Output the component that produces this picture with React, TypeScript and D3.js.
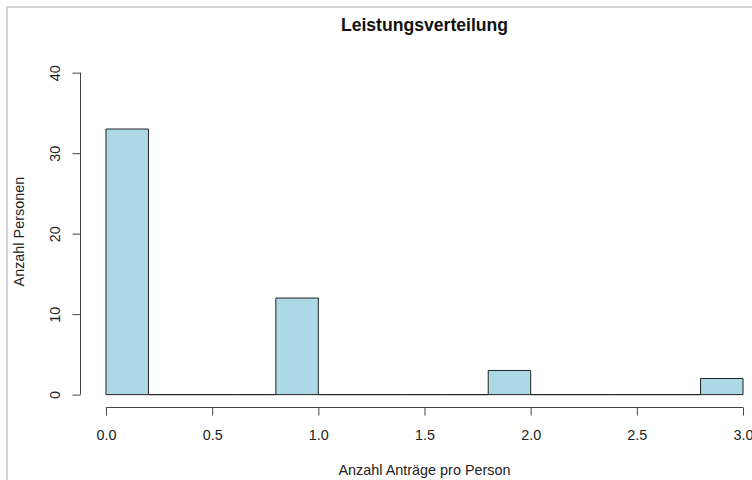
import React, { useEffect, useRef } from 'react';
import * as d3 from 'd3';

// Histogram bins (width 0.2) and counts
const binEdges = [0, 0.2, 0.4, 0.6, 0.8, 1.0, 1.2, 1.4, 1.6, 1.8, 2.0, 2.2, 2.4, 2.6, 2.8, 3.0];
const counts = [33, 0, 0, 0, 12, 0, 0, 0, 0, 3, 0, 0, 0, 0, 2];
const xTicks = [0, 0.5, 1.0, 1.5, 2.0, 2.5, 3.0];
const yTicks = [0, 10, 20, 30, 40];

const title = 'Leistungsverteilung';
const xTitle = 'Anzahl Anträge pro Person';
const yTitle = 'Anzahl Personen';

const width = 752;
const height = 480;

const App: React.FC = () => {
  const svgRef = useRef<SVGSVGElement>(null);

  useEffect(() => {
    document.body.style.margin = '0';
    const svg = d3.select(svgRef.current);
    svg.selectAll('*').remove();

    const font = 'Liberation Sans, Arial, sans-serif';
    const fs = '14.4px';

    // plot region (R style: 4% padding on both axes)
    const plot = { left: 80.5, right: 768.5, top: 59.8, bottom: 407.5 };

    const x = d3.scaleLinear().domain([-0.12, 3.12]).range([plot.left, plot.right]);
    const y = d3.scaleLinear().domain([-1.6, 41.6]).range([plot.bottom, plot.top]);

    svg.append('rect')
      .attr('width', width).attr('height', height)
      .attr('fill', '#fff');

    // outer frame of the screenshot
    svg.append('path')
      .attr('d', `M7,${height} L7,7 L${width},7`)
      .attr('fill', 'none')
      .attr('stroke', '#d4d4d4')
      .attr('stroke-width', 2);

    const bins = counts.map((c, i) => ({ x0: binEdges[i], x1: binEdges[i + 1], c }));

    // paths so that empty bins still show as a line on the baseline
    svg.append('g')
      .selectAll('path')
      .data(bins)
      .enter().append('path')
      .attr('d', d => {
        const p = d3.path();
        p.moveTo(x(d.x0), y(0));
        p.lineTo(x(d.x0), y(d.c));
        p.lineTo(x(d.x1), y(d.c));
        p.lineTo(x(d.x1), y(0));
        p.closePath();
        return p.toString();
      })
      .attr('fill', '#ADD8E6')
      .attr('stroke', '#222')
      .attr('stroke-width', 1);

    // X axis
    const xa = svg.append('g')
      .attr('transform', `translate(0,${plot.bottom})`)
      .call(d3.axisBottom(x).tickValues(xTicks).tickFormat(d3.format('.1f')).tickSize(8).tickSizeOuter(0));
    xa.select('.domain').remove();
    xa.append('line')
      .attr('x1', x(xTicks[0])).attr('x2', x(xTicks[xTicks.length - 1]))
      .attr('stroke', '#444');
    xa.selectAll('.tick line').attr('stroke', '#444');
    xa.selectAll('.tick text')
      .attr('y', 32.5).attr('dy', null)
      .attr('fill', '#222')
      .style('font-family', font)
      .style('font-size', fs);

    // Y axis
    const ya = svg.append('g')
      .attr('transform', `translate(${plot.left},0)`)
      .call(d3.axisLeft(y).tickValues(yTicks).tickSize(8).tickSizeOuter(0));
    ya.select('.domain').remove();
    ya.append('line')
      .attr('y1', y(yTicks[0])).attr('y2', y(yTicks[yTicks.length - 1]))
      .attr('stroke', '#444');
    ya.selectAll('.tick line').attr('stroke', '#444');
    ya.selectAll('.tick text')
      .attr('x', 0).attr('dy', null)
      .attr('transform', 'translate(-21,0) rotate(-90)')
      .attr('text-anchor', 'middle')
      .attr('fill', '#222')
      .style('font-family', font)
      .style('font-size', fs);

    // Titles
    svg.append('text')
      .attr('x', (plot.left + plot.right) / 2).attr('y', 31)
      .attr('text-anchor', 'middle')
      .style('font-family', font)
      .style('font-size', '17.6px')
      .style('font-weight', 'bold')
      .attr('fill', '#111')
      .text(title);

    svg.append('text')
      .attr('x', (plot.left + plot.right) / 2).attr('y', 475)
      .attr('text-anchor', 'middle')
      .style('font-family', font)
      .style('font-size', fs)
      .attr('fill', '#222')
      .text(xTitle);

    svg.append('text')
      .attr('transform', `translate(24,${(plot.top + plot.bottom) / 2 - 2}) rotate(-90)`)
      .attr('text-anchor', 'middle')
      .style('font-family', font)
      .style('font-size', fs)
      .attr('fill', '#222')
      .text(yTitle);
  }, []);

  return (
    <svg ref={svgRef} width={width} height={height} style={{ display: 'block' }}></svg>
  );
};

export default App;
